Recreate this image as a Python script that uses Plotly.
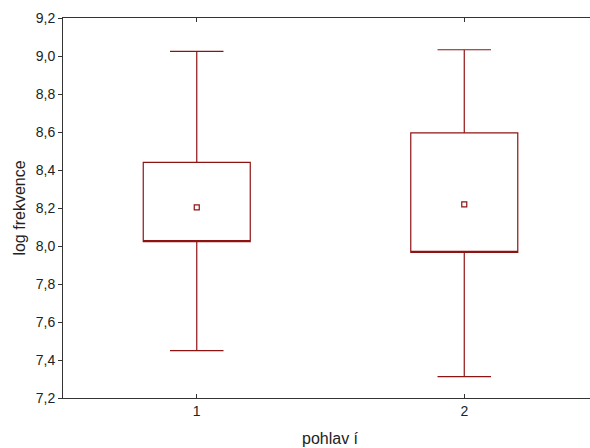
import plotly.graph_objects as go

categories = [1, 2]
q1 = [8.023, 7.966]
q3 = [8.440, 8.595]
lower = [7.449, 7.312]
upper = [9.024, 9.033]
means = [8.203, 8.219]
y_ticks = [7.2, 7.4, 7.6, 7.8, 8.0, 8.2, 8.4, 8.6, 8.8, 9.0, 9.2]

col = "#8E1414"
fig = go.Figure()
fig.add_trace(go.Box(
    x=categories, q1=q1, median=q1, q3=q3,
    lowerfence=lower, upperfence=upper,
    width=0.4, whiskerwidth=0.5,
    line=dict(color=col, width=1.2),
    fillcolor="rgba(0,0,0,0)",
    boxpoints=False, hoverinfo="skip", showlegend=False,
))
fig.add_trace(go.Scatter(
    x=categories, y=means, mode="markers",
    marker=dict(symbol="square-open", size=5, color=col, line=dict(width=1.2, color=col)),
    showlegend=False, hoverinfo="skip",
))

font = "Liberation Sans, Arial, sans-serif"
fig.update_layout(
    width=590, height=448,
    margin=dict(l=63, r=0, t=18, b=50, autoexpand=False),
    paper_bgcolor="white", plot_bgcolor="white",
    separators=", ",
    font=dict(family=font, size=14, color="#222"),
    xaxis=dict(
        range=[0.5, 2.47], tickvals=categories, ticktext=["1", "2"],
        showline=True, mirror="ticks", linecolor="#333", linewidth=1,
        ticks="inside", ticklen=4, tickcolor="#333", automargin=False,
        showgrid=False, zeroline=False, tickfont=dict(size=14, family=font),
    ),
    yaxis=dict(
        range=[7.2, 9.2], tickvals=y_ticks, tickformat=".1f",
        showline=True, linecolor="#333", linewidth=1, automargin=False,
        ticks="outside", ticklen=4, tickcolor="#333",
        showgrid=False, zeroline=False, tickfont=dict(size=14, family=font),
        title=dict(text="log frekvence", font=dict(size=16, family=font), standoff=6),
    ),
    annotations=[dict(
        text="pohlav í", x=1.5, xref="x", y=-0.08, yref="paper",
        showarrow=False, font=dict(size=16, family=font, color="#222"),
        xanchor="center", yanchor="top",
    )],
)
fig.write_html(
    "out.html",
    config={"displayModeBar": False},
    post_script="document.body.style.margin='0';document.body.style.overflow='hidden';",
)
